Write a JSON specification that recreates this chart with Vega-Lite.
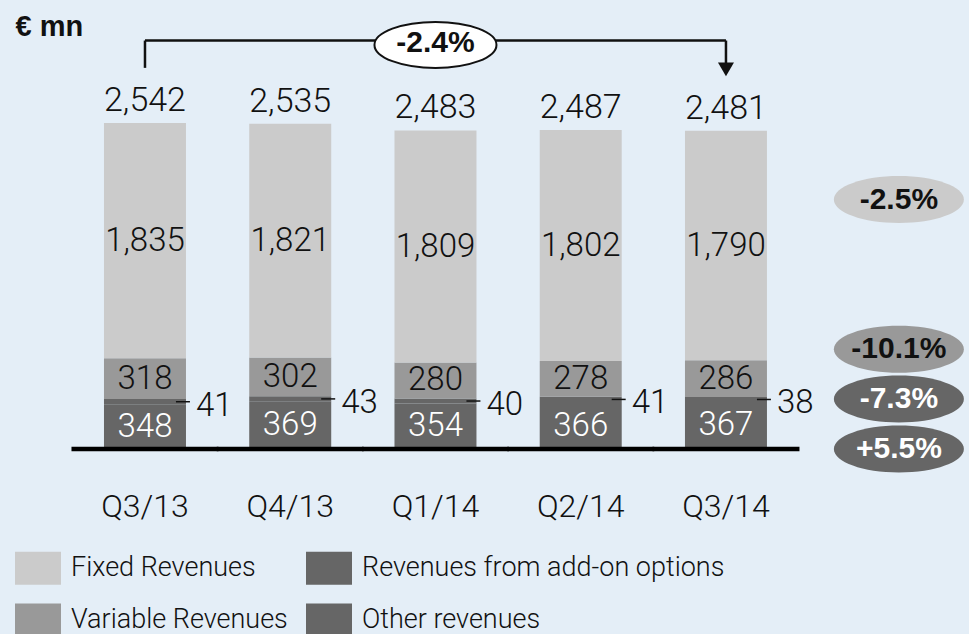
{
  "$schema": "https://vega.github.io/schema/vega-lite/v6.json",
  "width": 899,
  "height": 449,
  "autosize": {"type": "none"},
  "padding": {"left": 70, "top": 0, "right": 0, "bottom": 185},
  "background": "#e4eef7",
  "config": {
    "view": {"stroke": null},
    "axis": {"grid": false},
    "text": {"font": "Roboto", "fontWeight": 300, "fontSize": 33, "color": "#111111"}
  },
  "datasets": {
    "bars": [
      {"quarter": "Q3/13", "cat": "Other revenues", "value": 348, "ord": 1},
      {"quarter": "Q3/13", "cat": "Revenues from add-on options", "value": 41, "ord": 2},
      {"quarter": "Q3/13", "cat": "Variable Revenues", "value": 318, "ord": 3},
      {"quarter": "Q3/13", "cat": "Fixed Revenues", "value": 1835, "ord": 4},
      {"quarter": "Q4/13", "cat": "Other revenues", "value": 369, "ord": 1},
      {"quarter": "Q4/13", "cat": "Revenues from add-on options", "value": 43, "ord": 2},
      {"quarter": "Q4/13", "cat": "Variable Revenues", "value": 302, "ord": 3},
      {"quarter": "Q4/13", "cat": "Fixed Revenues", "value": 1821, "ord": 4},
      {"quarter": "Q1/14", "cat": "Other revenues", "value": 354, "ord": 1},
      {"quarter": "Q1/14", "cat": "Revenues from add-on options", "value": 40, "ord": 2},
      {"quarter": "Q1/14", "cat": "Variable Revenues", "value": 280, "ord": 3},
      {"quarter": "Q1/14", "cat": "Fixed Revenues", "value": 1809, "ord": 4},
      {"quarter": "Q2/14", "cat": "Other revenues", "value": 366, "ord": 1},
      {"quarter": "Q2/14", "cat": "Revenues from add-on options", "value": 41, "ord": 2},
      {"quarter": "Q2/14", "cat": "Variable Revenues", "value": 278, "ord": 3},
      {"quarter": "Q2/14", "cat": "Fixed Revenues", "value": 1802, "ord": 4},
      {"quarter": "Q3/14", "cat": "Other revenues", "value": 367, "ord": 1},
      {"quarter": "Q3/14", "cat": "Revenues from add-on options", "value": 38, "ord": 2},
      {"quarter": "Q3/14", "cat": "Variable Revenues", "value": 286, "ord": 3},
      {"quarter": "Q3/14", "cat": "Fixed Revenues", "value": 1790, "ord": 4}
    ],
    "change": [
      {"quarter": "Q3/13", "role": "from"},
      {"quarter": "Q3/14", "role": "to"},
      {"quarter": "Q1/14", "role": "label", "change": "-2.4%"}
    ],
    "badges": [
      {"col": "yoy", "cat": "Fixed Revenues", "growth": "-2.5%"},
      {"col": "yoy", "cat": "Variable Revenues", "growth": "-10.1%"},
      {"col": "yoy", "cat": "Revenues from add-on options", "growth": "-7.3%"},
      {"col": "yoy", "cat": "Other revenues", "growth": "+5.5%"}
    ]
  },
  "layer": [
    {
      "data": {"name": "bars"},
      "layer": [
        {
          "mark": {"type": "bar"},
          "encoding": {
            "x": {"field": "quarter", "type": "nominal", "title": null,
              "scale": {"domain": ["Q3/13", "Q4/13", "Q1/14", "Q2/14", "Q3/14"], "paddingInner": 0.4355, "paddingOuter": 0.8125, "align": 0.144},
              "axis": {"title": null, "domain": false, "ticks": false, "tickSize": 0, "labelAngle": 0, "labelFont": "Roboto", "labelFontWeight": 300, "labelFontSize": 32, "labelColor": "#111111", "labelPadding": 42}},
            "y": {"field": "value", "type": "quantitative", "stack": "zero", "title": "€ mn",
              "scale": {"domain": [0, 3500], "nice": false},
              "axis": {"title": "€ mn", "labels": false, "ticks": false, "tickSize": 0, "domain": false, "grid": false, "titleAngle": 0, "titleAlign": "left", "titleBaseline": "alphabetic", "titleX": -55, "titleY": 35, "titleFont": "Liberation Sans", "titleFontWeight": "bold", "titleFontSize": 29, "titleColor": "#111111", "titlePadding": 0}},
            "order": {"field": "ord", "type": "quantitative"},
            "color": {"field": "cat", "type": "nominal",
              "scale": {"domain": ["Fixed Revenues", "Variable Revenues", "Revenues from add-on options", "Other revenues"], "range": ["#cbcbcb", "#999999", "#666666", "#666666"]},
              "legend": {"orient": "none", "legendX": -55, "legendY": 545, "columns": 2, "title": null, "padding": 0,
                "symbolType": "M-1,-0.717L1,-0.717L1,0.717L-1,0.717Z", "symbolSize": 2116, "symbolStrokeWidth": 0, "symbolOpacity": 1,
                "labelFont": "Roboto", "labelFontWeight": 300, "labelFontSize": 27, "labelColor": "#111111", "labelOffset": 10, "labelLimit": 500,
                "columnPadding": 18, "rowPadding": 12}}
          }
        },
        {
          "transform": [{"aggregate": [{"op": "sum", "field": "value", "as": "total"}], "groupby": ["quarter"]}],
          "mark": {"type": "tick", "orient": "horizontal", "size": 147, "thickness": 4.5, "color": "#000000", "opacity": 1},
          "encoding": {
            "x": {"field": "quarter", "type": "nominal", "title": null,
              "scale": {"domain": ["Q3/13", "Q4/13", "Q1/14", "Q2/14", "Q3/14"], "paddingInner": 0.4355, "paddingOuter": 0.8125, "align": 0.144}},
            "y": {"datum": 0, "type": "quantitative", "scale": {"domain": [0, 3500], "nice": false}}
          }
        },
        {
          "mark": {"type": "text", "baseline": "middle"},
          "encoding": {
            "x": {"field": "quarter", "type": "nominal", "title": null,
              "scale": {"domain": ["Q3/13", "Q4/13", "Q1/14", "Q2/14", "Q3/14"], "paddingInner": 0.4355, "paddingOuter": 0.8125, "align": 0.144}},
            "y": {"field": "value", "type": "quantitative", "stack": "zero", "bandPosition": 0.5, "scale": {"domain": [0, 3500], "nice": false}},
            "detail": {"field": "cat"},
            "order": {"field": "ord", "type": "quantitative"},
            "text": {"field": "value", "type": "quantitative", "format": ","},
            "color": {"condition": {"test": "datum.cat === 'Other revenues'", "value": "#ffffff"}, "value": "#111111"},
            "opacity": {"condition": {"test": "datum.cat === 'Revenues from add-on options'", "value": 0}, "value": 1}
          }
        },
        {
          "mark": {"type": "point", "shape": "M-1,0L1,0", "size": 196, "filled": false, "stroke": "#111111", "strokeWidth": 1.5},
          "encoding": {
            "x": {"field": "quarter", "type": "nominal", "title": null, "bandPosition": 0.963,
              "scale": {"domain": ["Q3/13", "Q4/13", "Q1/14", "Q2/14", "Q3/14"], "paddingInner": 0.4355, "paddingOuter": 0.8125, "align": 0.144}},
            "y": {"field": "value", "type": "quantitative", "stack": "zero", "bandPosition": 0.5, "scale": {"domain": [0, 3500], "nice": false}},
            "detail": {"field": "cat"},
            "order": {"field": "ord", "type": "quantitative"},
            "opacity": {"condition": {"test": "datum.cat === 'Revenues from add-on options'", "value": 1}, "value": 0}
          }
        },
        {
          "mark": {"type": "text", "baseline": "middle", "align": "left", "dx": 10, "dy": 4},
          "encoding": {
            "x": {"field": "quarter", "type": "nominal", "title": null, "bandPosition": 1,
              "scale": {"domain": ["Q3/13", "Q4/13", "Q1/14", "Q2/14", "Q3/14"], "paddingInner": 0.4355, "paddingOuter": 0.8125, "align": 0.144}},
            "y": {"field": "value", "type": "quantitative", "stack": "zero", "bandPosition": 0.5, "scale": {"domain": [0, 3500], "nice": false}},
            "detail": {"field": "cat"},
            "order": {"field": "ord", "type": "quantitative"},
            "text": {"field": "value", "type": "quantitative", "format": ","},
            "opacity": {"condition": {"test": "datum.cat === 'Revenues from add-on options'", "value": 1}, "value": 0}
          }
        },
        {
          "mark": {"type": "text", "baseline": "alphabetic", "dy": -12, "fontSize": 34},
          "encoding": {
            "x": {"field": "quarter", "type": "nominal", "title": null,
              "scale": {"domain": ["Q3/13", "Q4/13", "Q1/14", "Q2/14", "Q3/14"], "paddingInner": 0.4355, "paddingOuter": 0.8125, "align": 0.144}},
            "y": {"aggregate": "sum", "field": "value", "type": "quantitative", "scale": {"domain": [0, 3500], "nice": false}},
            "text": {"aggregate": "sum", "field": "value", "type": "quantitative", "format": ","}
          }
        },
        {
          "data": {"name": "change"},
          "transform": [{"filter": "datum.role !== 'label'"}],
          "mark": {"type": "line", "color": "#111111", "strokeWidth": 2.5},
          "encoding": {
            "x": {"field": "quarter", "type": "nominal", "title": null,
              "scale": {"domain": ["Q3/13", "Q4/13", "Q1/14", "Q2/14", "Q3/14"], "paddingInner": 0.4355, "paddingOuter": 0.8125, "align": 0.144}},
            "y": {"datum": 3184, "type": "quantitative", "scale": {"domain": [0, 3500], "nice": false}}
          }
        },
        {
          "data": {"name": "change"},
          "transform": [{"filter": "datum.role !== 'label'"}],
          "mark": {"type": "rule", "color": "#111111", "strokeWidth": 2.5},
          "encoding": {
            "x": {"field": "quarter", "type": "nominal", "title": null,
              "scale": {"domain": ["Q3/13", "Q4/13", "Q1/14", "Q2/14", "Q3/14"], "paddingInner": 0.4355, "paddingOuter": 0.8125, "align": 0.144}},
            "y": {"datum": 3184, "type": "quantitative", "scale": {"domain": [0, 3500], "nice": false}},
            "y2": {"datum": 2971}
          }
        },
        {
          "data": {"name": "change"},
          "transform": [{"filter": "datum.role === 'to'"}],
          "mark": {"type": "point", "shape": "triangle-down", "size": 256, "filled": true, "color": "#111111", "opacity": 1},
          "encoding": {
            "x": {"field": "quarter", "type": "nominal", "title": null,
              "scale": {"domain": ["Q3/13", "Q4/13", "Q1/14", "Q2/14", "Q3/14"], "paddingInner": 0.4355, "paddingOuter": 0.8125, "align": 0.144}},
            "y": {"datum": 2959, "type": "quantitative", "scale": {"domain": [0, 3500], "nice": false}}
          }
        },
        {
          "data": {"name": "change"},
          "transform": [{"filter": "datum.role === 'label'"}],
          "mark": {"type": "point", "shape": "M-1,0C-1,-0.208 -0.552,-0.377 0,-0.377C0.552,-0.377 1,-0.208 1,0C1,0.208 0.552,0.377 0,0.377C-0.552,0.377 -1,0.208 -1,0Z", "size": 14884, "fill": "#ffffff", "stroke": "#111111", "strokeWidth": 2, "opacity": 1, "fillOpacity": 1},
          "encoding": {
            "x": {"field": "quarter", "type": "nominal", "title": null,
              "scale": {"domain": ["Q3/13", "Q4/13", "Q1/14", "Q2/14", "Q3/14"], "paddingInner": 0.4355, "paddingOuter": 0.8125, "align": 0.144}},
            "y": {"datum": 3150, "type": "quantitative", "scale": {"domain": [0, 3500], "nice": false}}
          }
        },
        {
          "data": {"name": "change"},
          "transform": [{"filter": "datum.role === 'label'"}],
          "mark": {"type": "text", "baseline": "middle", "font": "Liberation Sans", "fontWeight": "bold", "fontSize": 30},
          "encoding": {
            "x": {"field": "quarter", "type": "nominal", "title": null,
              "scale": {"domain": ["Q3/13", "Q4/13", "Q1/14", "Q2/14", "Q3/14"], "paddingInner": 0.4355, "paddingOuter": 0.8125, "align": 0.144}},
            "y": {"datum": 3168, "type": "quantitative", "scale": {"domain": [0, 3500], "nice": false}},
            "text": {"field": "change"}
          }
        }
      ]
    },
    {
      "data": {"name": "badges"},
      "encoding": {
        "x": {"field": "col", "type": "nominal", "title": null, "axis": null, "scale": {"type": "point", "domain": ["yoy"], "align": 0.922}},
        "y": {"field": "cat", "type": "nominal", "title": null, "axis": null,
          "scale": {"type": "point", "domain": ["p1", "p2", "p3", "p4", "Fixed Revenues", "g1", "g2", "Variable Revenues", "Revenues from add-on options", "Other revenues"], "padding": 0, "align": 1}}
      },
      "layer": [
        {
          "mark": {"type": "point", "shape": "M-1,0C-1,-0.1997 -0.5523,-0.3615 0,-0.3615C0.5523,-0.3615 1,-0.1997 1,0C1,0.1997 0.5523,0.3615 0,0.3615C-0.5523,0.3615 -1,0.1997 -1,0Z", "size": 16900, "filled": true, "opacity": 1, "strokeWidth": 0},
          "encoding": {
            "color": {"field": "cat", "type": "nominal", "legend": null,
              "scale": {"domain": ["Fixed Revenues", "Variable Revenues", "Revenues from add-on options", "Other revenues"], "range": ["#cbcbcb", "#999999", "#666666", "#666666"]}}
          }
        },
        {
          "mark": {"type": "text", "baseline": "middle", "font": "Liberation Sans", "fontWeight": "bold", "fontSize": 30},
          "encoding": {
            "text": {"field": "growth"},
            "color": {"condition": {"test": "datum.cat === 'Other revenues' || datum.cat === 'Revenues from add-on options'", "value": "#ffffff"}, "value": "#111111"}
          }
        }
      ]
    }
  ],
  "resolve": {"scale": {"x": "independent", "y": "independent"}}
}
